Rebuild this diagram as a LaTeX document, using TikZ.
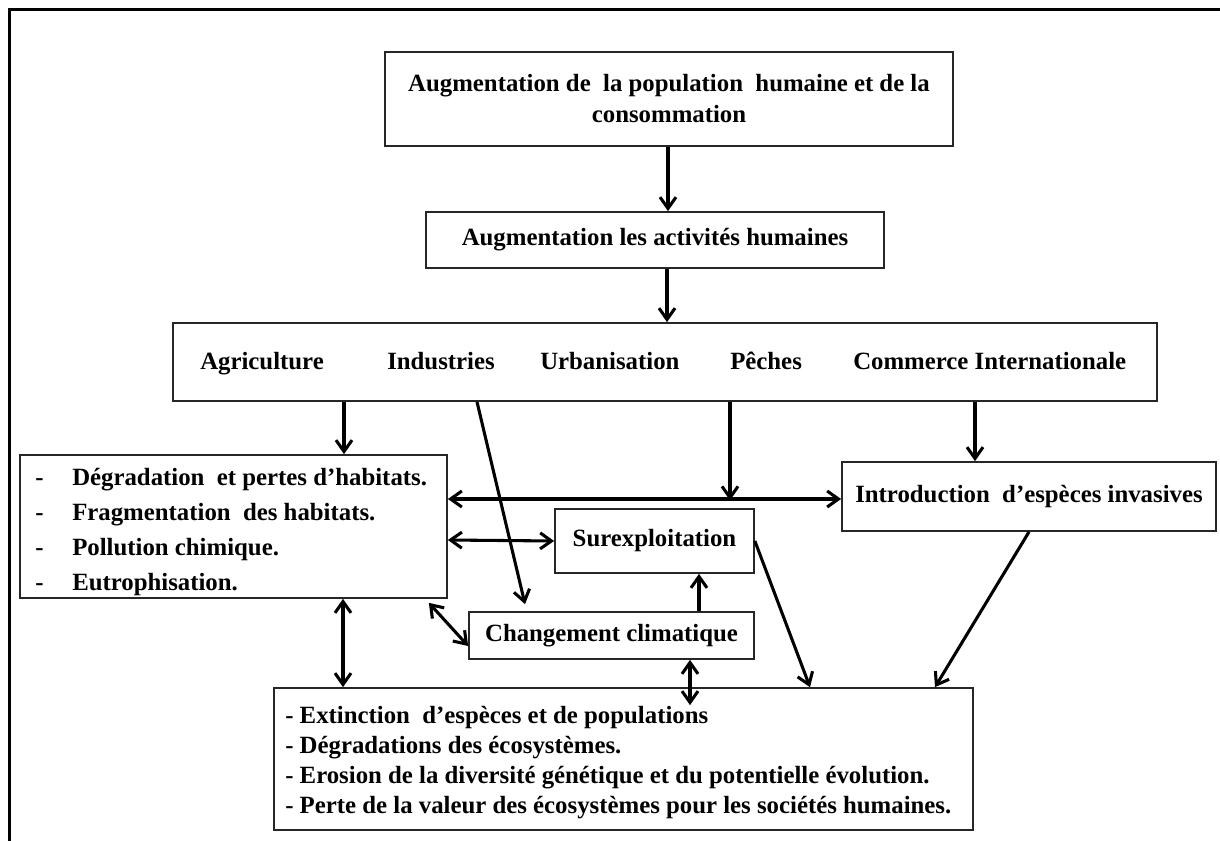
\documentclass[tikz,border=0pt]{standalone}
\usepackage{fontspec}
\setmainfont{Liberation Serif}
\usetikzlibrary{arrows.meta,calc}
\begin{document}
\begin{tikzpicture}[x=0.75pt,y=-0.75pt,
  box/.style={draw=black!85,line width=1.3pt,rectangle,inner sep=0pt,font=\bfseries\fontsize{18.6}{23.25}\selectfont},
  txt/.style={inner sep=0pt,anchor=base west,font=\bfseries\fontsize{18.6}{22}\selectfont},
  arr/.style={line width=2.3pt,-{Straight Barb[length=8.5pt,width=12pt]}},
  darr/.style={line width=2.3pt,{Straight Barb[length=8.5pt,width=12pt]}-{Straight Barb[length=8.5pt,width=12pt]}}]
\useasboundingbox (0,0) rectangle (1220,841);
\draw[line width=2.25pt] (9.5,841) -- (9.5,9.5) -- (1220,9.5);

% boxes
\node[box,minimum width=426pt,minimum height=70.5pt,align=center] (b1) at (669,99)
  {Augmentation de\ \ la population\ \ humaine et de la\\consommation};
\node[box,minimum width=343.5pt,minimum height=42pt] (b2) at (655,240) {Augmentation les activités humaines};
\node[box,minimum width=738pt,minimum height=58.5pt] (b3) at (665,362) {};
\node[box,minimum width=320.25pt,minimum height=107.25pt] (b4) at (233.5,526.5) {};
\node[box,minimum width=280.5pt,minimum height=51.75pt] (b5) at (1029,496.5) {Introduction\ \ d’espèces invasives};
\node[box,minimum width=149.25pt,minimum height=48pt] (b6) at (654.5,541) {Surexploitation};
\node[box,minimum width=213.75pt,minimum height=35.25pt] (b7) at (611.5,635.5) {Changement climatique};
\node[box,minimum width=524.25pt,minimum height=106.5pt] (b8) at (623.5,759) {};

% activity labels
\node[txt] (agri) at (200,369) {Agriculture};
\node[txt] (indu) at (387,369) {Industries};
\node[txt] (urba) at (540,369) {Urbanisation};
\node[txt] (pech) at (730,369) {Pêches};
\node[txt] (comm) at (853,369) {Commerce Internationale};

% left box lines
\node[txt] (d1) at (35,485) {-};
\node[txt] (t1) at (72,485) {Dégradation\ \ et pertes d’habitats.};
\node[txt] (d2) at (35,520) {-};
\node[txt] (t2) at (72,520) {Fragmentation\ \ des habitats.};
\node[txt] (d3) at (35,555) {-};
\node[txt] (t3) at (72,555) {Pollution chimique.};
\node[txt] (d4) at (35,590) {-};
\node[txt] (t4) at (72,590) {Eutrophisation.};

% bottom box lines
\node[txt] (e1) at (285,723) {- Extinction\ \ d’espèces et de populations};
\node[txt] (e2) at (285,753) {- Dégradations des écosystèmes.};
\node[txt] (e3) at (285,783) {- Erosion de la diversité génétique et du potentielle évolution.};
\node[txt] (e4) at (285,813) {- Perte de la valeur des écosystèmes pour les sociétés humaines.};

% connectors
\draw[arr] ($(b1.south)+(-1,0)$) -- ($(b2.north)+(13,0)$);
\draw[arr] ($(b2.south)+(12,0)$) -- ($(b3.north)+(2,0)$);
\draw[arr] ($(b3.south)+(-321,0)$) -- ($(b4.north)+(110.5,0)$);
\draw[arr] ($(b3.south)+(-188,0)$) -- ($(b7.north)+(-86.5,-7)$);
\draw[arr] ($(b3.south)+(65,0)$) -- ($(b3.south)+(65,98.5)$);
\draw[arr] ($(b3.south)+(310,0)$) -- ($(b5.north)+(-54,0)$);
\draw[darr] ($(b4.east)+(0,-27.5)$) -- ($(b5.west)+(0,2.5)$);
\draw[darr] ($(b4.east)+(0,13.5)$) -- (b6.west);
\draw[arr] ($(b7.north)+(87.5,0)$) -- ($(b6.south)+(44.5,0)$);
\draw[darr] ($(b4.south east)+(-19,4)$) -- ($(b7.west)+(0,10.5)$);
\draw[arr] (b6.east) -- ($(b8.north)+(186.5,0)$);
\draw[arr] (b5.south) -- ($(b8.north)+(311.5,0)$);
\draw[darr] ($(b4.south)+(109.5,0)$) -- ($(b8.north)+(-280.5,0)$);
\draw[darr] ($(b7.south)+(78.5,0)$) -- ($(b8.north)+(66.5,18)$);
\end{tikzpicture}
\end{document}
